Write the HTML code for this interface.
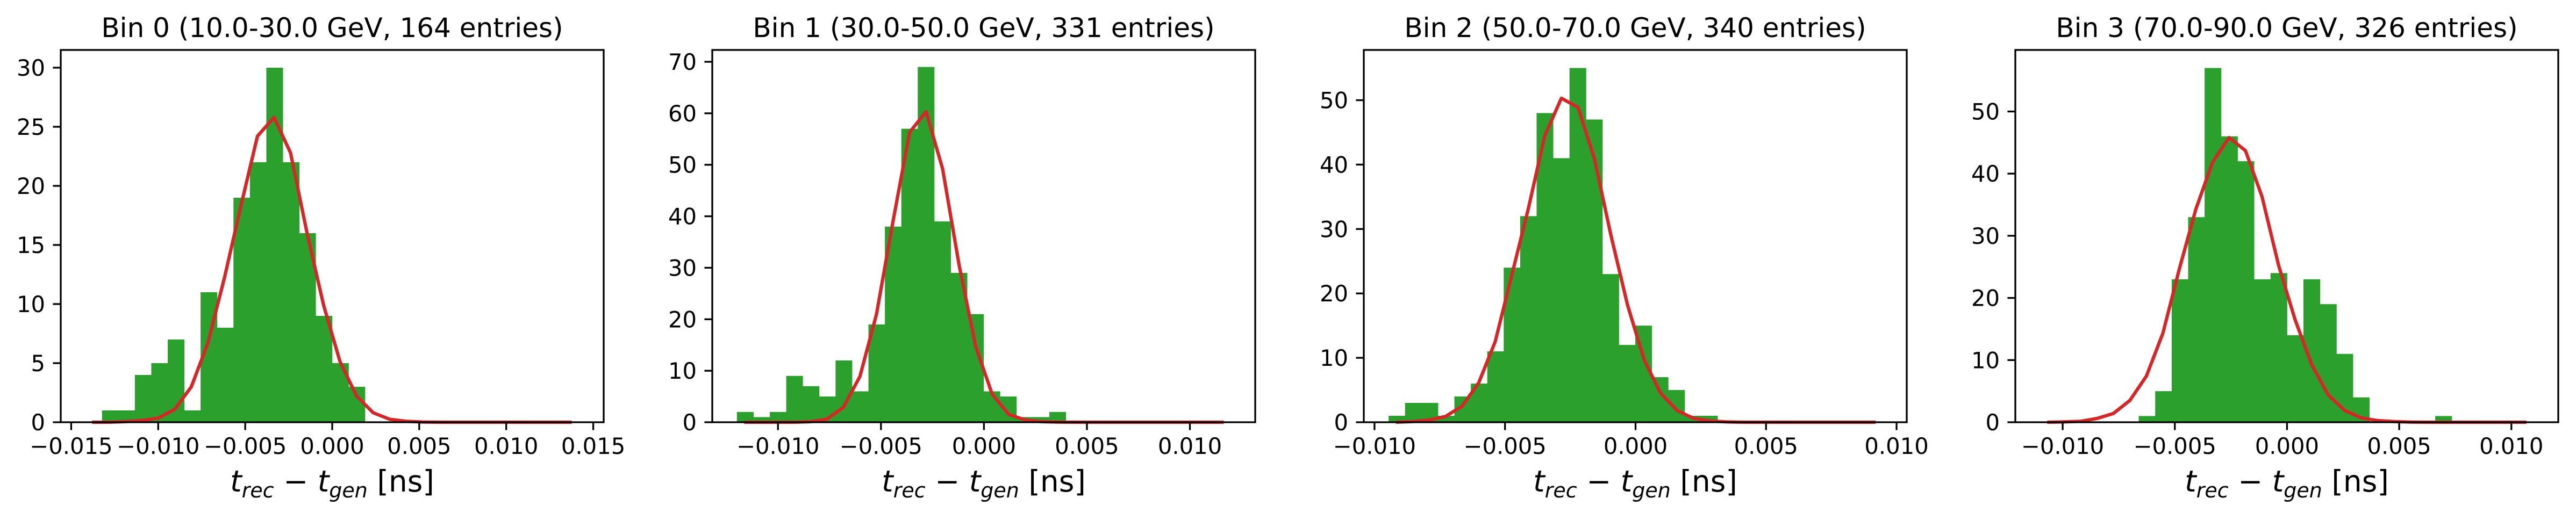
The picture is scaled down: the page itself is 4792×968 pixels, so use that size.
<!DOCTYPE html>
<html><head><meta charset="utf-8"><style>
html,body{margin:0;padding:0;background:#fff;}
svg{display:block;font-family:"DejaVu Sans","Liberation Sans",sans-serif;}
</style></head><body>
<svg id="fig" width="4792" height="968" viewBox="0 0 4792 968" xmlns="http://www.w3.org/2000/svg"></svg>
<script>
// ---- data ----
const titles = ["Bin 0 (10.0-30.0 GeV, 164 entries)","Bin 1 (30.0-50.0 GeV, 331 entries)","Bin 2 (50.0-70.0 GeV, 340 entries)","Bin 3 (70.0-90.0 GeV, 326 entries)"];
const counts0 = [1,1,4,5,7,1,11,8,19,22,30,22,16,9,5,3];
const counts1 = [2,1,2,9,7,5,12,6,19,38,57,69,39,29,21,6,5,1,1,2];
const counts2 = [1,3,3,1,4,6,11,24,32,48,41,55,47,23,12,15,7,5,1,1];
const counts3 = [1,5,23,33,57,46,42,23,24,14,23,19,11,4,0,0,0,0,1];
const binRange0 = [-0.01323, 0.00188];
const binRange1 = [-0.011994, 0.00397];
const binRange2 = [-0.00946, 0.00314];
const binRange3 = [-0.00661, 0.00734];
const fit0 = [0,0,0.05,0.15,0.35,1.1,3.0,6.7,12.2,18.3,24.2,25.8,22.8,16.0,9.9,5.1,2.2,0.8,0.25,0.08,0.02,0,0,0,0,0,0,0,0,0];
const fit1 = [0,0,0,0,0.1,0.6,2.9,8.9,21,39,56.3,60.3,49.2,30.5,14.7,5.4,1.5,0.45,0.1,0.02,0,0,0,0,0,0,0,0,0,0];
const fit2 = [0,0.1,0.35,0.9,2.5,6.1,12.5,22.8,33.1,44.5,50.3,48.9,40.9,29.0,18.2,9.7,4.5,1.8,0.6,0.2,0.05,0,0,0,0,0,0,0,0,0];
const fit3 = [0,0.05,0.15,0.6,1.4,3.5,7.4,14.3,24.7,34.3,41.8,45.8,43.7,36.3,25.3,16.5,9.3,4.4,1.9,0.7,0.27,0.1,0.03,0,0,0,0,0,0,0];
const fitRange0 = [-0.0138, 0.01376];
const fitRange1 = [-0.01164, 0.01164];
const fitRange2 = [-0.00918, 0.0092];
const fitRange3 = [-0.01069, 0.01067];
const xlims = [[-0.0156,0.0156],[-0.01319,0.01317],[-0.01041,0.01039],[-0.01211,0.01209]];
const ylims = [31.5, 72.3, 57.8, 59.9];
const xticks0 = [-0.015,-0.010,-0.005,0.000,0.005,0.010,0.015];
const xticks1 = [-0.010,-0.005,0.000,0.005,0.010];
const xticks2 = [-0.010,-0.005,0.000,0.005,0.010];
const xticks3 = [-0.010,-0.005,0.000,0.005,0.010];
const yticks0 = [0,5,10,15,20,25,30];
const yticks1 = [0,10,20,30,40,50,60,70];
const yticks2 = [0,10,20,30,40,50];
const yticks3 = [0,10,20,30,40,50];

const counts=[counts0,counts1,counts2,counts3];
const binRanges=[binRange0,binRange1,binRange2,binRange3];
const fits=[fit0,fit1,fit2,fit3];
const fitRanges=[fitRange0,fitRange1,fitRange2,fitRange3];
const xticks=[xticks0,xticks1,xticks2,xticks3];
const yticks=[yticks0,yticks1,yticks2,yticks3];

const NS="http://www.w3.org/2000/svg";
const svg=document.getElementById('fig');
function mk(tag,attrs,parent){const e=document.createElementNS(NS,tag);for(const k in attrs)e.setAttribute(k,attrs[k]);(parent||svg).appendChild(e);return e;}
function fmt(v){const s=Math.abs(v).toFixed(3);return (v<-1e-12?'\u2212':'')+s;}

const AX_W=1010, AX_H=693, TOP=93, BOTTOM=786;
for(let p=0;p<4;p++){
  const L=113+p*1212, R=L+AX_W;
  const g=mk('g',{});
  
  
  const xs=v=>L+(v-xlims[p][0])/(xlims[p][1]-xlims[p][0])*AX_W;
  const ys=v=>BOTTOM-v/ylims[p]*AX_H;
  const c=counts[p], br=binRanges[p], bw=(br[1]-br[0])/c.length;
  for(let i=0;i<c.length;i++){
    if(c[i]<=0)continue;
    const x0=xs(br[0]+i*bw), x1=xs(br[0]+(i+1)*bw);
    const r=mk('rect',{x:x0,y:ys(c[i]),width:x1-x0+0.5,height:BOTTOM-ys(c[i]),fill:'#2ca02c'},g);
    
    
  }
  const f=fits[p], fr=fitRanges[p];
  let d='';
  for(let i=0;i<f.length;i++){
    const xv=fr[0]+i*(fr[1]-fr[0])/(f.length-1);
    d+=(i?'L':'M')+xs(xv).toFixed(1)+' '+ys(f[i]).toFixed(1);
  }
  const pl=mk('path',{d:d,fill:'none',stroke:'#d62728','stroke-width':6.25,'stroke-linejoin':'round'},g);
  
  
  const fr2=mk('rect',{x:L,y:TOP,width:AX_W,height:AX_H,fill:'none',stroke:'#000','stroke-width':3.3},g);
  
  
  xticks[p].forEach(v=>{
    const x=xs(v);
    mk('line',{x1:x,x2:x,y1:BOTTOM,y2:BOTTOM+14.6,stroke:'#000','stroke-width':3.3},g);
    const t=mk('text',{x:x,y:845,'font-size':41.7,'text-anchor':'middle',fill:'#000'},g);
    t.textContent=fmt(v);
    
    
  });
  yticks[p].forEach(v=>{
    const y=ys(v);
    mk('line',{x1:L-14.6,x2:L,y1:y,y2:y,stroke:'#000','stroke-width':3.3},g);
    const t=mk('text',{x:L-29,y:y+15,'font-size':41.7,'text-anchor':'end',fill:'#000'},g);
    t.textContent=String(v);
    
    
  });
  const tt=mk('text',{x:L+AX_W/2,y:69,'font-size':50,'text-anchor':'middle',fill:'#000'},g);
  tt.textContent=titles[p];
  
  
  const xl=mk('text',{x:L+AX_W/2,y:915,'font-size':55,'text-anchor':'middle',fill:'#000'},g);
  
  
  xl.innerHTML='<tspan font-style="italic">t</tspan><tspan font-style="italic" font-size="38" dy="11">rec</tspan><tspan dy="-11"> \u2212 </tspan><tspan font-style="italic">t</tspan><tspan font-style="italic" font-size="38" dy="11">gen</tspan><tspan dy="-11"> [ns]</tspan>';
}
</script>
</body></html>
